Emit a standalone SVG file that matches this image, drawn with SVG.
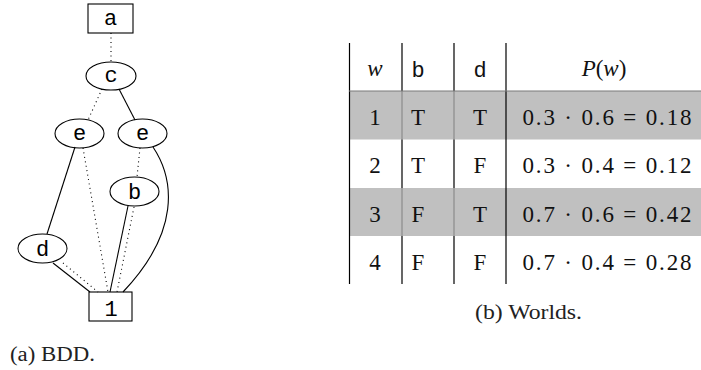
<svg xmlns="http://www.w3.org/2000/svg" width="701" height="370" viewBox="0 0 701 370">
  <style>
    .node { fill: none; stroke: #000; stroke-width: 1.1; }
    .lbl { font-family: "Liberation Mono", "DejaVu Sans Mono", monospace; font-size: 22px; fill: #000; text-anchor: middle; }
    .solid { fill: none; stroke: #000; stroke-width: 1.1; }
    .dot { fill: none; stroke: #000; stroke-width: 1.1; stroke-dasharray: 1 3.5; }
    .rm { font-family: "Liberation Serif", "DejaVu Serif", serif; font-size: 23px; fill: #111; text-anchor: middle; }
    .tt { font-family: "Liberation Mono", "DejaVu Sans Mono", monospace; font-size: 22px; fill: #111; text-anchor: middle; }
    .cap { font-family: "Liberation Serif", "DejaVu Serif", serif; font-size: 20px; fill: #222; }
    .rule { stroke: #000; stroke-width: 1.2; }
    .rule-soft { stroke: #8a8a8a; stroke-width: 1.2; }
    .shade { fill: #c0c0c0; }
  </style>

  <!-- BDD: connectors -->
  <g id="edges">
    <line class="dot" x1="111" y1="33" x2="111" y2="62"/>
    <line class="dot" x1="102" y1="89" x2="88" y2="120"/>
    <line class="solid" x1="119" y1="89" x2="135" y2="120"/>
    <line class="solid" x1="75" y1="147" x2="47" y2="234"/>
    <line class="dot" x1="83" y1="148" x2="108" y2="292"/>
    <line class="dot" x1="140" y1="148" x2="137" y2="177"/>
    <path class="solid" d="M153,147 C175,180 180,232 123,292"/>
    <line class="solid" x1="128" y1="206" x2="110" y2="292"/>
    <line class="dot" x1="134" y1="207" x2="117" y2="292"/>
    <line class="solid" x1="53" y1="263" x2="90" y2="292"/>
    <line class="dot" x1="63" y1="263" x2="98" y2="292"/>
  </g>

  <!-- BDD: nodes -->
  <g id="node-a">
    <rect class="node" x="88" y="4" width="45" height="29"/>
    <text class="lbl" x="110.5" y="25">a</text>
  </g>
  <g id="node-c">
    <ellipse class="node" cx="111" cy="76" rx="25" ry="14"/>
    <text class="lbl" x="111" y="82">c</text>
  </g>
  <g id="node-e1">
    <ellipse class="node" cx="79.5" cy="133.5" rx="24.5" ry="14.5"/>
    <text class="lbl" x="79.5" y="140">e</text>
  </g>
  <g id="node-e2">
    <ellipse class="node" cx="142.5" cy="133.5" rx="24.5" ry="14.5"/>
    <text class="lbl" x="142.5" y="140">e</text>
  </g>
  <g id="node-b">
    <ellipse class="node" cx="134.5" cy="191.5" rx="24.5" ry="14.5"/>
    <text class="lbl" x="134.5" y="199">b</text>
  </g>
  <g id="node-d">
    <ellipse class="node" cx="42.5" cy="248.5" rx="24.5" ry="14.5"/>
    <text class="lbl" x="42.5" y="256">d</text>
  </g>
  <g id="node-1">
    <rect class="node" x="89" y="292" width="43" height="29"/>
    <text class="lbl" x="111" y="316">1</text>
  </g>

  <text class="cap" x="10" y="361" textLength="85" lengthAdjust="spacingAndGlyphs">(a) BDD.</text>

  <!-- Worlds table -->
  <g id="table">
    <rect class="shade" x="349" y="91" width="352" height="48.5"/>
    <rect class="shade" x="349" y="188" width="352" height="48"/>

    <!-- column rules -->
    <line class="rule" x1="349.5" y1="43" x2="349.5" y2="284"/>
    <line class="rule" x1="506" y1="43" x2="506" y2="284"/>
    <line class="rule" x1="402" y1="43" x2="402" y2="91"/>
    <line class="rule" x1="454" y1="43" x2="454" y2="91"/>
    <line class="rule-soft" x1="402" y1="91" x2="402" y2="139.5"/>
    <line class="rule-soft" x1="454" y1="91" x2="454" y2="139.5"/>
    <line class="rule" x1="402" y1="139.5" x2="402" y2="188"/>
    <line class="rule" x1="454" y1="139.5" x2="454" y2="188"/>
    <line class="rule-soft" x1="402" y1="188" x2="402" y2="236"/>
    <line class="rule-soft" x1="454" y1="188" x2="454" y2="236"/>
    <line class="rule" x1="402" y1="236" x2="402" y2="284"/>
    <line class="rule" x1="454" y1="236" x2="454" y2="284"/>
    <line x1="349" y1="91" x2="701" y2="91" stroke="#7a7a7a" stroke-width="1.2"/>

    <!-- header -->
    <text class="rm" x="375" y="76" font-style="italic">w</text>
    <text class="tt" x="418" y="77">b</text>
    <text class="tt" x="480" y="77">d</text>
    <text class="rm" x="604" y="76"><tspan font-style="italic">P</tspan>(<tspan font-style="italic">w</tspan>)</text>

    <!-- rows -->
    <text class="rm" x="375" y="125">1</text>
    <text class="rm" x="418" y="125">T</text>
    <text class="rm" x="480" y="125">T</text>
    <text class="rm" x="607" y="125" textLength="169" lengthAdjust="spacing">0.3 · 0.6 = 0.18</text>

    <text class="rm" x="375" y="173">2</text>
    <text class="rm" x="418" y="173">T</text>
    <text class="rm" x="480" y="173">F</text>
    <text class="rm" x="607" y="173" textLength="169" lengthAdjust="spacing">0.3 · 0.4 = 0.12</text>

    <text class="rm" x="375" y="222">3</text>
    <text class="rm" x="418" y="222">F</text>
    <text class="rm" x="480" y="222">T</text>
    <text class="rm" x="607" y="222" textLength="169" lengthAdjust="spacing">0.7 · 0.6 = 0.42</text>

    <text class="rm" x="375" y="270">4</text>
    <text class="rm" x="418" y="270">F</text>
    <text class="rm" x="480" y="270">F</text>
    <text class="rm" x="607" y="270" textLength="169" lengthAdjust="spacing">0.7 · 0.4 = 0.28</text>
  </g>

  <text class="cap" x="475" y="319" textLength="107" lengthAdjust="spacingAndGlyphs">(b) Worlds.</text>
</svg>
